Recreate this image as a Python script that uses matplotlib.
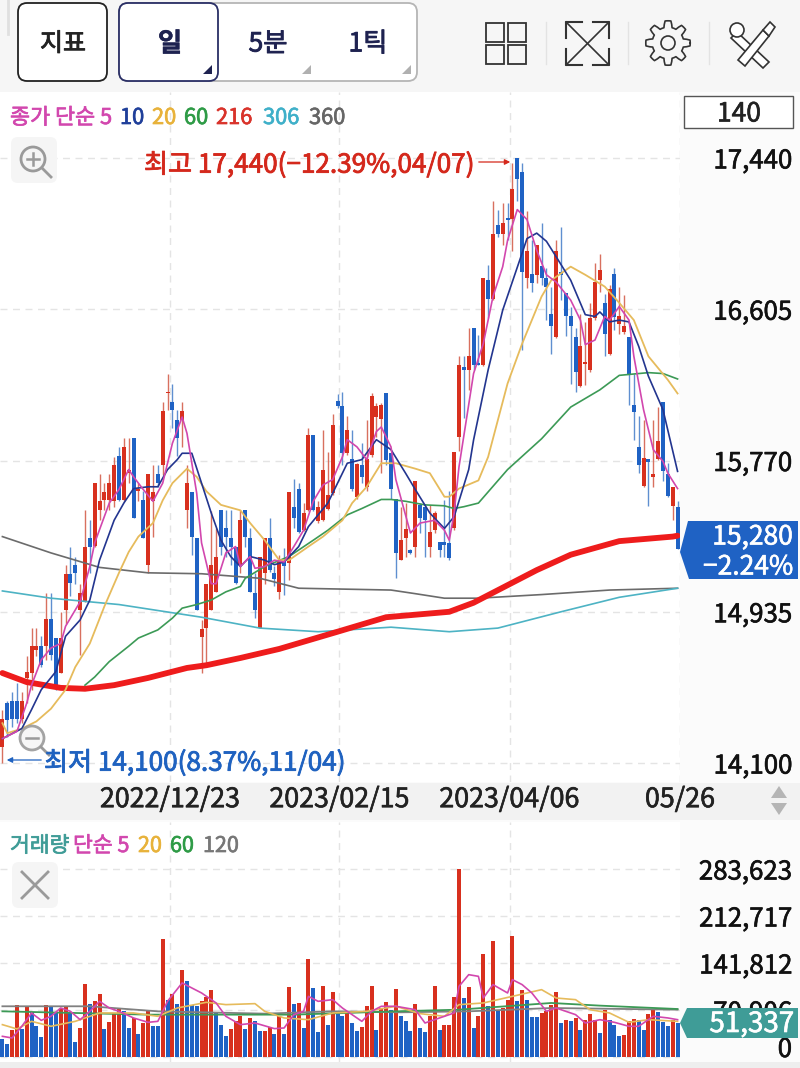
import numpy as np
import matplotlib
matplotlib.use('Agg')
import matplotlib.pyplot as plt
from matplotlib.patches import FancyBboxPatch, Polygon, Rectangle, Circle
import matplotlib.patheffects as pe

plt.rcParams['font.family'] = ['Noto Sans CJK KR', 'DejaVu Sans']

# 일봉 시가/고가/저가/종가
opens = [14190,14430,14440,14440,14345,14570,14595,14725,14745,14745,14895,14790,14595,14945,15145,15195,14945,14995,15345,15300,
         15495,15550,15550,15545,15795,15550,15700,15895,15600,15550,15195,15545,15695,15745,16145,16095,15995,15995,15495,15595,
         15345,14795,14845,14945,15045,15495,15395,15345,15295,15195,15495,15345,15040,14845,15150,15345,15150,15045,15220,15205,
         15515,15615,15385,15495,15910,15435,15440,15500,15590,16100,16070,15810,15780,15570,15745,15625,15800,16010,16000,16145,
         15810,15560,15220,15340,15275,15295,15525,15515,15295,15385,15320,15320,15315,15395,15900,16285,16270,16500,16310,16295,
         16765,16660,17070,17020,17110,17105,17440,17360,16780,16800,16795,16845,16780,16580,16450,16810,16695,16570,16450,16180,
         16305,16270,16555,16765,16640,16360,16800,16525,16480,16450,16075,15845,15630,15780,15680,15780,16095,15695,15520,15515]
highs = [14395,14440,14495,14540,14495,14690,14845,14845,14800,15040,15040,14790,14935,15195,15295,15240,15090,15495,15440,15645,
         15695,15645,15695,15790,15845,15895,15895,15895,15645,15600,15695,15745,15745,16095,16245,16195,16050,16095,15745,15595,
         15345,14890,15090,15490,15395,15495,15495,15495,15295,15495,15495,15395,15150,15240,15345,15450,15185,15250,15285,15595,
         15670,15645,15535,15950,15910,15545,15940,15815,16025,16135,16150,16015,15940,15755,15865,15995,16145,16085,16085,16145,
         15810,15560,15515,15535,15280,15655,15535,15515,15525,15490,15320,15550,15600,15815,16345,16345,16500,16500,16465,16775,
         16850,17200,17155,17190,17190,17410,17440,17410,17145,16985,16960,17080,16830,16730,16985,17060,16695,16620,16500,16580,
         16535,16640,16860,16910,16690,16740,16830,16730,16685,16450,16250,16015,15995,15780,15995,16065,16095,15755,15625,15545]
lows = [14100,14245,14300,14320,14320,14430,14505,14690,14630,14670,14670,14505,14595,14870,15020,15090,14695,14990,15150,15295,
        15440,15495,15495,15515,15545,15545,15645,15450,15545,15340,15150,15350,15625,15690,16050,15950,15795,15845,15395,15250,
        14945,14595,14650,14945,15045,15250,15240,15195,15090,15150,15295,15045,14900,14845,15090,15155,15075,15005,15030,15110,
        15395,15370,15380,15490,15490,15425,15435,15495,15580,16060,15745,15800,15600,15560,15645,15600,15790,15900,15700,15745,
        15560,15120,15220,15240,15255,15240,15370,15240,15240,15370,15240,15240,15220,15385,15820,16005,16160,16270,16295,16290,
        16555,16655,17005,16960,16985,16925,17200,16380,16720,16700,16750,16740,16545,16360,16445,16655,16455,16195,16150,16175,
        16185,16260,16545,16700,16345,16350,16490,16470,16470,16075,15885,15700,15625,15520,15625,15775,15655,15570,15440,15280]
closes = [14345,14338,14345,14345,14440,14605,14745,14745,14640,14895,14695,14530,14790,15145,15095,15150,15040,15295,15295,15645,
          15545,15595,15645,15745,15550,15845,15720,15450,15610,15345,15695,15595,15645,16045,16150,16050,15895,16045,15645,15350,
          14945,14840,15090,15195,15240,15295,15350,15295,15095,15440,15350,15045,14945,15240,15345,15165,15115,15220,15190,15595,
          15450,15375,15480,15910,15495,15515,15720,15580,15965,16070,15810,15940,15610,15750,15680,15780,16125,16070,16075,15775,
          15610,15260,15330,15390,15260,15655,15450,15440,15375,15480,15275,15305,15230,15815,16295,16270,16345,16295,16295,16775,
          16660,17020,17020,17080,17095,17270,17325,16810,16925,16750,16960,16780,16730,16510,16925,16795,16570,16510,16260,16400,
          16315,16555,16755,16820,16470,16715,16560,16565,16515,16245,16040,15745,15785,15760,15695,15875,15710,15575,15625,15280]

# 이동평균선 (읽은 지점만)
ma5_i = [0,3,5,6,8,10,12,13,16,18,19,22,24,26,27,29,31,33,35,37,38,40,41,43,44,46,48,49,51,52,54,56,58,60,62,64,66,68,70,71,73,75,77,78,80,81,84,86,89,91,92,93,94,97,99,101,103,104,106,108,110,112,114,117,119,120,122,124,125,127,129,130,132,134,136,137,139]
ma5 = [14235,14275,14430,14530,14670,14735,14760,14855,14990,15185,15315,15535,15610,15720,15680,15610,15545,15645,15865,16010,15920,15590,15315,15090,15090,15260,15295,15185,15240,15175,15185,15220,15210,15295,15385,15545,15635,15665,15790,15885,15845,15775,15930,15955,15845,15665,15370,15425,15440,15385,15330,15480,15735,16250,16415,16675,16840,16985,17155,17100,16930,16795,16755,16655,16545,16410,16435,16565,16545,16620,16545,16345,16050,15830,15765,15700,15615]
ma10_i = [0,4,6,8,11,13,16,18,20,23,25,27,30,32,34,36,37,39,41,43,45,47,49,51,54,56,58,61,63,67,69,71,74,77,80,83,85,88,91,93,96,97,100,103,107,108,110,112,114,117,120,122,123,125,127,129,131,133,136,139]
ma10 = [14235,14290,14395,14505,14605,14800,14890,15000,15220,15440,15535,15615,15625,15625,15720,15775,15810,15810,15645,15480,15330,15240,15185,15240,15220,15195,15210,15295,15405,15535,15645,15755,15775,15885,15830,15700,15610,15480,15395,15460,15720,15883,16270,16600,16915,16995,17025,16980,16895,16765,16575,16565,16590,16535,16545,16535,16400,16235,16050,15710]
ma20_i = [0,1,4,7,10,13,15,18,21,24,26,28,31,33,35,38,40,42,45,49,51,54,57,59,63,66,70,72,75,78,81,85,88,91,92,94,98,100,104,107,111,113,117,120,124,127,130,133,137,139]
ma20 = [14320,14265,14290,14330,14400,14505,14630,14760,14965,15150,15265,15350,15425,15550,15645,15725,15680,15600,15525,15495,15425,15330,15220,15220,15295,15350,15440,15535,15625,15755,15755,15725,15700,15570,15570,15615,15660,15790,16195,16415,16675,16765,16840,16795,16730,16640,16545,16345,16215,16140]
ma60_i = [17,19,22,26,28,32,35,37,40,43,46,49,50,54,59,64,67,71,74,78,80,83,87,91,93,95,98,104,111,117,123,127,133,136,139]
ma60 = [14530,14575,14660,14745,14790,14835,14900,14955,14975,15000,15045,15075,15120,15185,15240,15330,15385,15470,15505,15555,15555,15545,15525,15520,15505,15515,15535,15720,15890,16065,16160,16240,16255,16250,16220]
ma216_i = [0,5,12,17,23,30,38,42,49,57,69,79,92,97,110,117,127,138,139]
ma216 = [14597,14547,14515,14510,14530,14570,14625,14640,14680,14730,14825,14905,14935,14985,15165,15250,15325,15350,15355]
ma306_i = [0,10,24,41,53,65,80,92,102,115,127,139]
ma306 = [15050,15010,14975,14905,14845,14825,14850,14825,14845,14935,15015,15065]
ma360_i = [0,10,20,30,41,53,61,80,85,91,98,111,125,139]
ma360 = [15350,15260,15180,15150,15145,15120,15065,15055,15035,15010,15010,15030,15055,15065]

# 거래량
volumes = [27200,19600,41200,79000,42300,76500,67400,47300,29700,78000,74900,66400,72900,75500,67400,22100,43800,110700,80000,84000,
           95600,42800,52300,64900,73900,68900,43800,58900,35200,51300,68900,47300,46300,178100,86500,95600,80000,131800,114200,79000,
           76500,84000,90000,101600,66400,48800,32200,42300,53800,61400,42300,58900,53800,38700,38700,45300,35200,61400,34700,105600,
           80000,81500,43800,147900,104100,37700,106600,48800,98100,66400,62400,67400,51300,38700,45300,76500,106600,41200,73900,83000,
           71400,102600,61400,53800,39700,80000,43800,37200,62400,106600,41200,47800,47800,90000,283623,89000,105600,43800,61400,155900,
           76500,174500,68900,73900,86500,183100,85000,101600,86500,60400,59900,66400,69900,78000,98100,51300,55300,54800,58900,40200,
           56300,65400,56300,36200,71400,56300,48800,32200,33700,53800,57300,55300,41200,65400,71400,67900,52300,46300,56300,51337]
vol_colors = ('bbrrbrbbbr' 'bbrrbbrrbr' 'rbrrrbbrbr' 'rbbrbrbrbb' 'brrrbbbrrr' 'brbbrrbrbr' 'brbrbbrbrb'
              'brbbrrrbrr' 'brbbbrbbrr' 'brrrrbrbrr' 'brbrrrbrbb' 'brrrrbrbrb' 'rrrbrbbbrr' 'rbbrrbbbrb')
vma5_i = [0,2,4,6,8,10,12,14,16,18,20,22,24,27,30,32,34,37,41,44,46,49,52,56,58,60,62,63,65,68,70,74,76,78,81,85,87,90,93,94,96,98,99,101,104,105,107,109,112,114,118,120,123,126,129,131,134,137,139]
vma5 = [31200,28700,46300,66400,55300,61400,73900,68900,56300,68900,84000,73900,68900,58900,52300,53800,84000,111700,96600,81500,61400,48800,51300,42800,43800,63900,68900,91500,84000,86500,73900,53800,68900,76500,76500,71400,51300,58900,66400,106600,124200,121700,89000,109200,96600,116700,109200,96600,68900,73900,63900,51300,56300,52300,46300,46300,61400,58900,56300]
vma20_i = [0,3,6,10,15,20,27,32,36,42,46,52,54,58,63,68,75,81,86,91,94,99,105,111,114,118,121,125,129,133,139]
vma20 = [48800,42300,53800,46300,53800,66400,66400,61400,73900,82500,79000,80500,68900,58900,56300,66400,68900,76500,65400,61400,79000,81500,91500,101600,89000,86500,71400,66400,52300,56300,53800]
vma60_i = [0,30,60,81,94,113,123,139]
vma60 = [68900,63900,63900,68900,71400,81500,77500,72400]
vma120_i = [0,18,32,54,68,82,96,113,139]
vma120 = [76500,76500,68900,65400,68900,67400,68900,73900,71400]

price_ticks = [14100,14935,15770,16605,17440]
vol_ticks = [0,70906,141812,212717,283623]
date_pos = [34.5,69.4,104.4,139.5]
date_labels = ['2022/12/23','2023/02/15','2023/04/06','05/26']

RED = '#d8301e'
BLUE = '#1f62c4'
WICK_RED = '#d8705f'
WICK_BLUE = '#5f8fd0'
TEAL = '#3f9c97'
MA_PINK = '#d247ae'
MA_NAVY = '#23358f'
MA_YEL = '#e6bb5c'
MA_GRN = '#3c9a56'
MA_GRAY = '#6b6b6b'
MA_CYAN = '#4db3c4'
GRID = '#e4e4e4'

W, H = 800, 1068
fig = plt.figure(figsize=(W / 100, H / 100), dpi=100, facecolor='#fbfbfb')


def px_axes(left, top, right, bottom, **kw):
    return fig.add_axes([left / W, 1 - bottom / H, (right - left) / W, (bottom - top) / H], **kw)


def thick(t, w=0.45):
    # 글자를 조금 두껍게
    t.set_path_effects([pe.withStroke(linewidth=w, foreground=t.get_color())])
    return t


# 배경 띠
bg = px_axes(0, 0, W, H, zorder=0)
bg.set_xlim(0, W)
bg.set_ylim(H, 0)
bg.axis('off')
bg.add_patch(Rectangle((0, 0), W, 92, fc='#f6f6f6', ec='none'))
bg.add_patch(Rectangle((0, 783), W, 37, fc='#f2f2f2', ec='none'))
bg.add_patch(Rectangle((0, 1062), W, 6, fc='#eeeeee', ec='none'))

x = np.arange(len(opens))
opens_a, closes_a = np.array(opens), np.array(closes)
up = closes_a >= opens_a

# 가격 차트
ax = px_axes(0, 92, 680, 782, zorder=1)
ax.set_xlim(-0.494, 139.5)
ax.set_ylim(13995.5, 17804)
ax.set_yticks(price_ticks)
ax.set_yticklabels([f'{v:,}' for v in price_ticks], fontsize=18.6, color='#111111')
ax.yaxis.tick_right()
ax.tick_params(axis='y', length=0, pad=80.6)
for lb in ax.get_yticklabels():
    lb.set_ha('right')
    thick(lb)
ax.set_xticks(date_pos)
ax.set_xticklabels(date_labels, fontsize=19.3, color='#222222')
ax.tick_params(axis='x', length=0, pad=3)
for lb in ax.get_xticklabels():
    thick(lb)
ax.grid(True, color=GRID, lw=1, ls=(0, (5, 4)))
ax.set_axisbelow(True)
for s in ax.spines.values():
    s.set_visible(False)

wick_colors = [WICK_RED if u else WICK_BLUE for u in up]
ax.vlines(x, lows, highs, colors=wick_colors, lw=1.0, zorder=2)
ax.bar(x, np.abs(closes_a - opens_a), bottom=np.minimum(opens_a, closes_a), width=0.82,
       color=[RED if u else BLUE for u in up], lw=0, zorder=3)

ax.plot(ma360_i, ma360, color=MA_GRAY, lw=1.2, zorder=4)
ax.plot(ma306_i, ma306, color=MA_CYAN, lw=1.2, zorder=4)
ax.plot(ma216_i, ma216, color='#ee1c1c', lw=4.2, zorder=4, solid_capstyle='round', solid_joinstyle='round')
ax.plot(ma60_i, ma60, color=MA_GRN, lw=1.2, zorder=5)
ax.plot(ma20_i, ma20, color=MA_YEL, lw=1.3, zorder=5)
ax.plot(ma10_i, ma10, color=MA_NAVY, lw=1.2, zorder=6)
ax.plot(ma5_i, ma5, color=MA_PINK, lw=1.2, zorder=7)

# 거래량 차트
vax = px_axes(0, 822, 680, 1062, zorder=1)
vax.set_xlim(-0.494, 139.5)
vax.set_ylim(-7543, 354521)
vax.set_yticks(vol_ticks)
vax.set_yticklabels([f'{v:,}' for v in vol_ticks], fontsize=18.6, color='#111111')
vax.yaxis.tick_right()
vax.tick_params(axis='y', length=0, pad=80.6)
for lb in vax.get_yticklabels():
    lb.set_ha('right')
    thick(lb)
vax.get_yticklabels()[0].set_va('baseline')
vax.set_xticks(date_pos[:3])
vax.set_xticklabels([])
vax.tick_params(axis='x', length=0)
vax.grid(True, color=GRID, lw=1, ls=(0, (5, 4)))
vax.set_axisbelow(True)
for s in vax.spines.values():
    s.set_visible(False)
vax.bar(x, volumes, width=0.82, color=[RED if c == 'r' else BLUE for c in vol_colors], lw=0, zorder=3)
vax.plot(vma120_i, vma120, color='#808080', lw=1.3, zorder=4)
vax.plot(vma60_i, vma60, color=MA_GRN, lw=1.3, zorder=4)
vax.plot(vma20_i, vma20, color=MA_YEL, lw=1.2, zorder=5)
vax.plot(vma5_i, vma5, color=MA_PINK, lw=1.2, zorder=6)

# 화면 요소 (버튼, 범례, 가격표)
ov = px_axes(0, 0, W, H, zorder=5)
ov.set_xlim(0, W)
ov.set_ylim(H, 0)
ov.axis('off')
ov.patch.set_alpha(0)


def button(x0, y0, x1, y1, ec, lw=1.3, fc='white'):
    ov.add_patch(FancyBboxPatch((x0 + 8, y0 + 8), x1 - x0 - 16, y1 - y0 - 16,
                                boxstyle='round,pad=8,rounding_size=9', fc=fc, ec=ec, lw=lw))


button(18, 3, 107, 81, '#222222')
button(119, 3, 417, 81, '#b5b5b5')
button(119, 3, 218, 81, '#2a2f66')
ov.plot([8, 8], [0, 34], color='#e0e0e0', lw=2)
thick(ov.text(63, 44, '지표', fontsize=18, ha='center', va='center', color='#222222'), 0.6)
thick(ov.text(170, 44, '일', fontsize=19, ha='center', va='center', color='#1e2250', weight='bold'), 0.3)
thick(ov.text(268, 44, '5분', fontsize=19, ha='center', va='center', color='#1e2250'), 0.6)
thick(ov.text(368, 44, '1틱', fontsize=19, ha='center', va='center', color='#1e2250'), 0.6)
ov.add_patch(Polygon([[212, 74], [212, 65], [203, 74]], fc='#1e2250', ec='none'))
ov.add_patch(Polygon([[311, 74], [311, 65], [302, 74]], fc='#b0b0b0', ec='none'))
ov.add_patch(Polygon([[411, 74], [411, 65], [402, 74]], fc='#b0b0b0', ec='none'))

# 아이콘
for rx, ry in [(486, 23), (508, 23), (486, 45), (508, 45)]:
    ov.add_patch(Rectangle((rx, ry), 18, 19, fc='none', ec='#333333', lw=1.3))
for sx in [546, 628, 709]:
    ov.plot([sx, sx], [22, 64], color='#e3e3e3', lw=1)
ov.plot([566, 609], [22, 65], color='#333333', lw=1.2)
ov.plot([609, 566], [22, 65], color='#333333', lw=1.2)
for cx, cy, dx, dy in [(566, 22, 1, 1), (609, 22, -1, 1), (566, 65, 1, -1), (609, 65, -1, -1)]:
    ov.plot([cx + 16 * dx, cx, cx], [cy, cy, cy + 16 * dy], color='#333333', lw=1.5)
ang = np.linspace(0, 2 * np.pi, 97)
gear_r = 19 + 3.2 * np.clip(3 * np.cos(8 * ang), -1, 1)
ov.plot(668 + gear_r * np.cos(ang), 43 + gear_r * np.sin(ang), color='#333333', lw=1.2)
ov.add_patch(Circle((668, 43), 7, fc='none', ec='#333333', lw=1.2))
ov.add_patch(Polygon([[731, 38], [737, 32], [769, 62], [763, 68]], fc='white', ec='#333333', lw=1.2))
ov.add_patch(Polygon([[738, 60], [763, 30], [769, 36], [745, 66]], fc='white', ec='#333333', lw=1.2))
ov.add_patch(Polygon([[763, 30], [770, 22], [775, 27], [769, 36]], fc='white', ec='#333333', lw=1.2))
ov.add_patch(Circle((737, 30), 7, fc='white', ec='#333333', lw=1.2))

# 범례
for txt, col, tx in zip(['종가 단순 5', '10', '20', '60', '216', '306', '360'],
                        [MA_PINK, '#1f3f9a', '#e8b23a', '#2e9b46', '#d9332b', '#3fb0c9', '#666666'],
                        [10, 120, 152, 184, 216, 263, 309]):
    thick(ov.text(tx, 118, txt, fontsize=15.7, color=col, va='center', ha='left'), 0.5)
for txt, col, tx in zip(['거래량', '단순 5', '20', '60', '120'],
                        [TEAL, MA_PINK, '#e8b23a', '#2e9b46', '#777777'],
                        [10, 73, 138, 170, 203]):
    thick(ov.text(tx, 846, txt, fontsize=15.5, color=col, va='center', ha='left'), 0.5)

ov.add_patch(Rectangle((684, 96), 109, 32, fc='white', ec='#555555', lw=1))
thick(ov.text(739, 114, '140', fontsize=19, color='#222222', ha='center', va='center'))

# 최고/최저 표시
thick(ov.text(144, 165, '최고 17,440(−12.39%,04/07)', fontsize=18.8, color='#d4281c', va='center', ha='left'), 0.6)
ov.annotate('', xy=(513, 162), xytext=(476, 162), arrowprops=dict(arrowstyle='-|>', color='#d4281c', lw=0.9, mutation_scale=8))
thick(ov.text(44, 763, '최저 14,100(8.37%,11/04)', fontsize=18.8, color='#1f62c0', va='center', ha='left'), 0.6)
ov.annotate('', xy=(4, 760), xytext=(44, 760), arrowprops=dict(arrowstyle='-|>', color='#1f62c0', lw=0.9, mutation_scale=8))

# 확대/축소 버튼
for cx, cy in [(34, 160), (35, 885)]:
    ov.add_patch(FancyBboxPatch((cx - 20, cy - 20), 40, 40, boxstyle='round,pad=3,rounding_size=7', fc='#f5f5f5', ec='none'))
ov.add_patch(Circle((33, 159), 12, fc='none', ec='#9a9a9a', lw=2))
ov.plot([42, 51], [168, 177], color='#9a9a9a', lw=2)
ov.plot([27, 39], [159, 159], color='#9a9a9a', lw=1.8)
ov.plot([33, 33], [153, 165], color='#9a9a9a', lw=1.8)
ov.add_patch(Circle((32, 738), 12, fc='#f5f5f5', ec='#9a9a9a', lw=2, alpha=0.9))
ov.plot([26, 38], [738, 738], color='#9a9a9a', lw=1.8)
ov.plot([41, 49], [747, 755], color='#9a9a9a', lw=2)
ov.plot([22, 48], [872, 898], color='#9a9a9a', lw=2)
ov.plot([48, 22], [872, 898], color='#9a9a9a', lw=2)

# 날짜 스크롤 화살표
ov.add_patch(Polygon([[771, 798], [787, 798], [779, 786]], fc='#b5b5b5', ec='none'))
ov.add_patch(Polygon([[771, 803], [787, 803], [779, 815]], fc='#b5b5b5', ec='none'))

# 현재가 / 거래량 표
ov.add_patch(Polygon([[688, 521], [798, 521], [798, 579], [689, 579], [680, 552]], fc=BLUE, ec='none'))
thick(ov.text(793, 537, '15,280', fontsize=19, color='white', ha='right', va='center'))
thick(ov.text(793, 567, '−2.24%', fontsize=19, color='white', ha='right', va='center'))
ov.add_patch(Polygon([[687, 1008], [798, 1008], [798, 1038], [687, 1038], [680, 1023]], fc=TEAL, ec='none'))
thick(ov.text(794, 1024, '51,337', fontsize=20, color='white', ha='right', va='center'))

fig.savefig('out.png', dpi=100, facecolor=fig.get_facecolor())
